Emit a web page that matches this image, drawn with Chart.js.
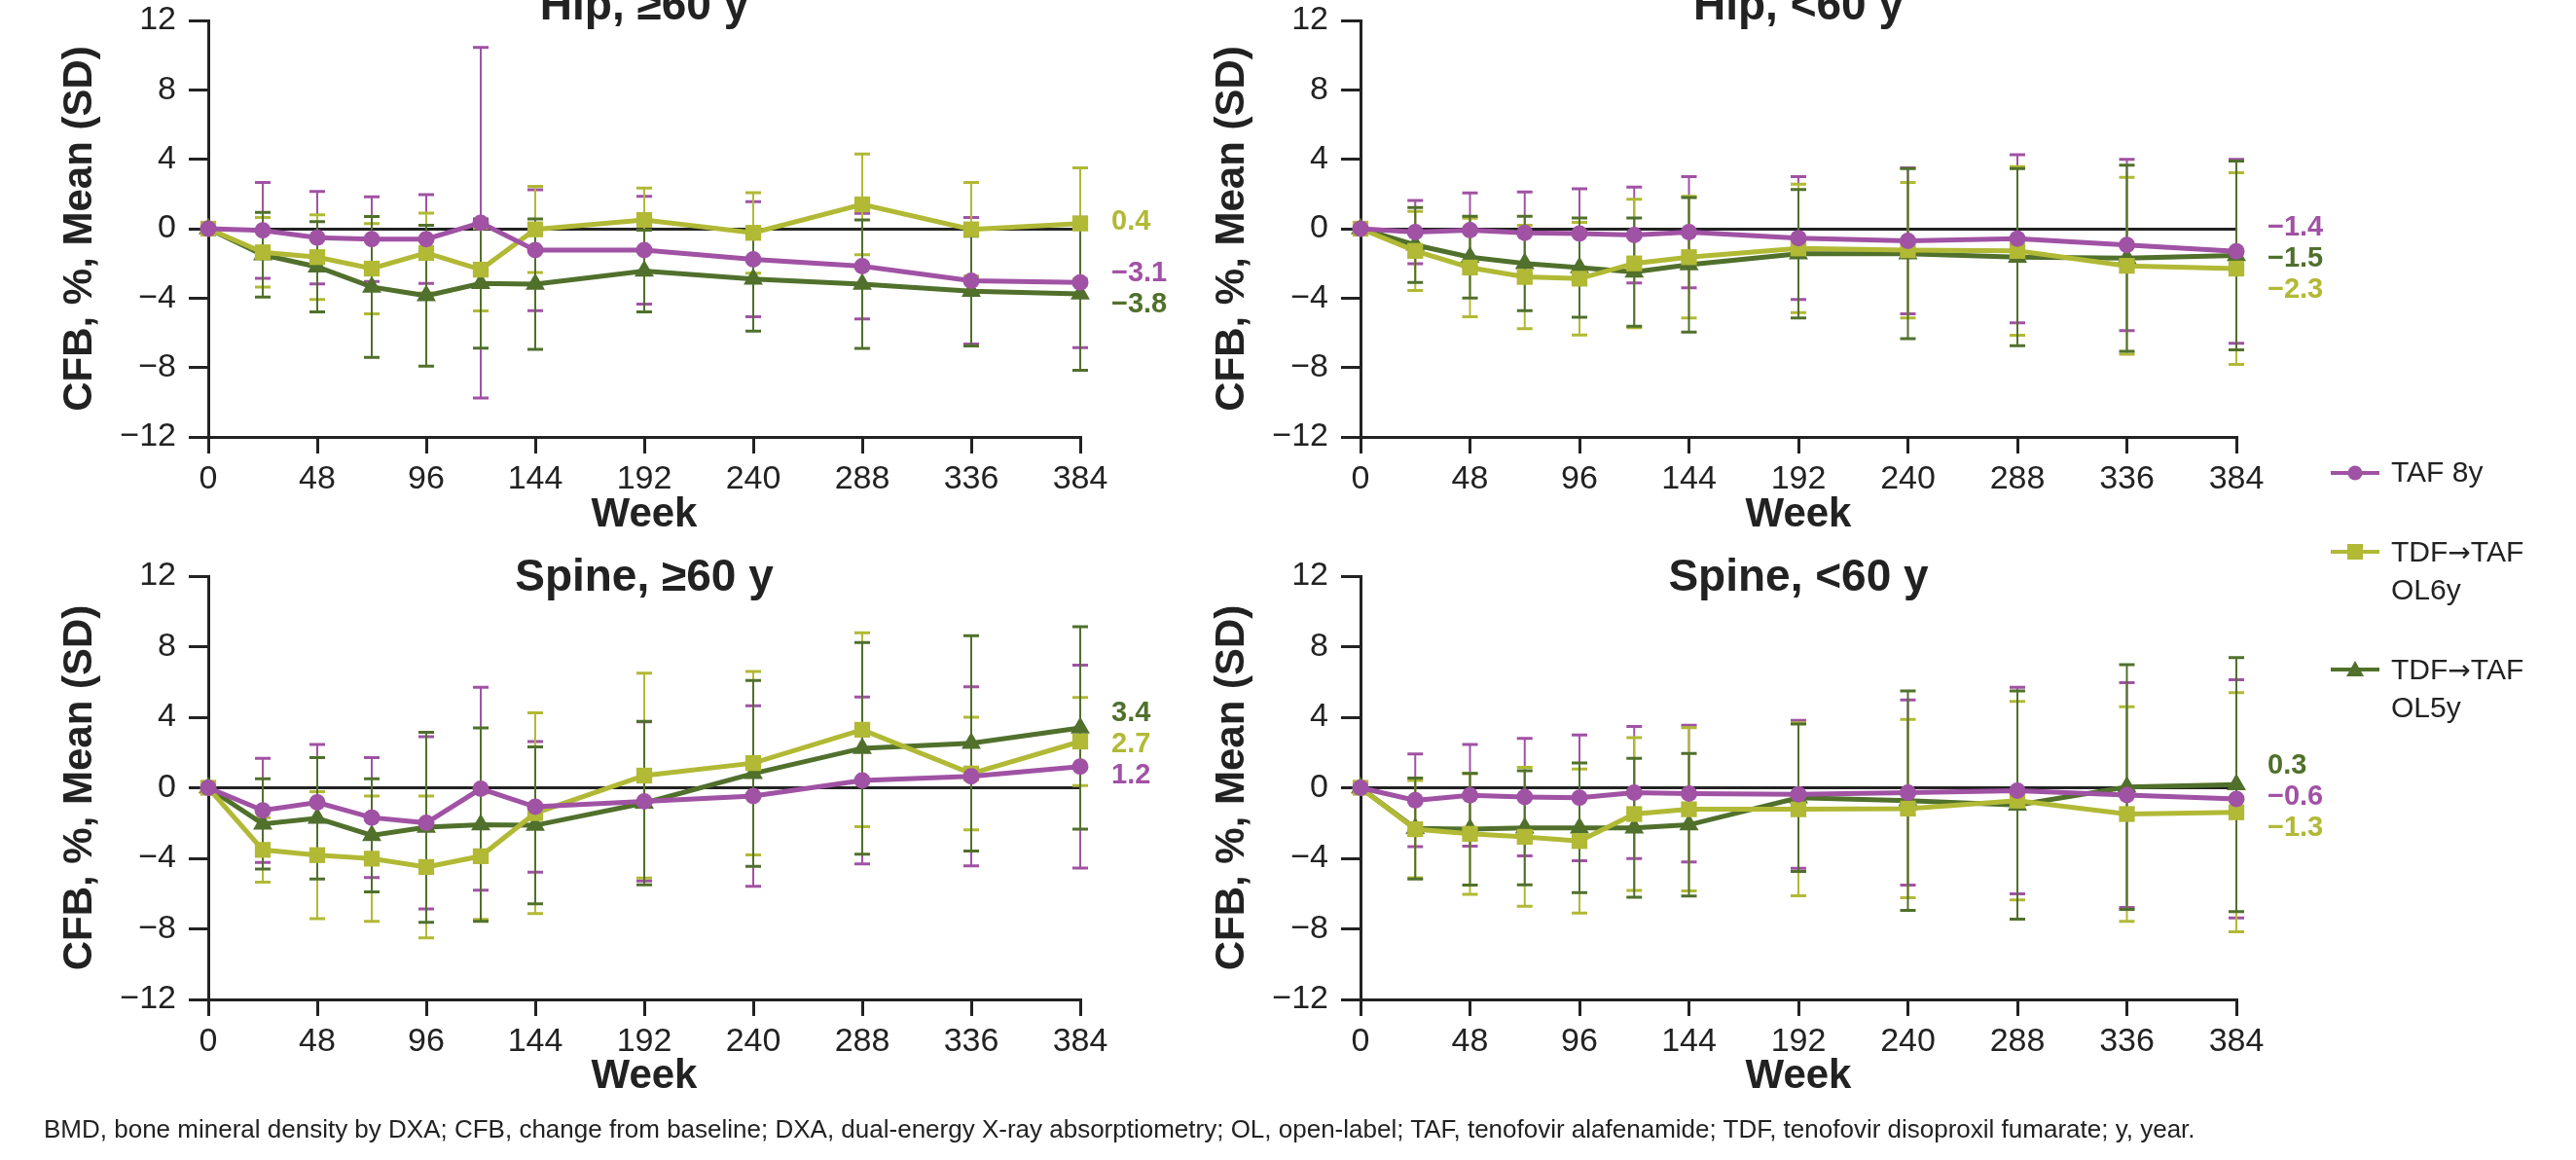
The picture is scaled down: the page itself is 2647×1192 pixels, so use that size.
<!DOCTYPE html>
<html>
<head>
<meta charset="utf-8">
<script src="https://cdn.jsdelivr.net/npm/chart.js@4.4.1/dist/chart.umd.min.js"></script>
<style>
  body { margin: 0; background: #fff; width: 2647px; height: 1192px; position: relative; overflow: hidden;
         font-family: "Liberation Sans", Arial, sans-serif; color: #222; }
  canvas { position: absolute; }
  .lg-mark { position: absolute; left: 2395px; width: 50px; height: 24px; }
  .lg-text { position: absolute; left: 2457px; font-size: 30px; white-space: nowrap; }
  .arr { font-family: "DejaVu Sans", sans-serif; font-size: 28px; }
  #foot { position: absolute; left: 45px; top: 1147px; font-size: 26px; line-height: 26px; white-space: nowrap; }
</style>
</head>
<body>
<canvas id="c1" width="1300" height="560" style="left:0;top:0"></canvas>
<canvas id="c2" width="1304" height="560" style="left:1184px;top:0"></canvas>
<canvas id="c3" width="1300" height="600" style="left:0;top:560px"></canvas>
<canvas id="c4" width="1304" height="600" style="left:1184px;top:560px"></canvas>

<svg class="lg-mark" style="top:474px"><line x1="0" y1="12" x2="50" y2="12" stroke="#a052a4" stroke-width="4"/><circle cx="25" cy="12" r="7.5" fill="#a052a4"/></svg>
<div class="lg-text" style="top:467px;line-height:36px">TAF 8y</div>
<svg class="lg-mark" style="top:555px"><line x1="0" y1="12" x2="50" y2="12" stroke="#b1b935" stroke-width="4"/><rect x="17" y="4" width="16" height="16" fill="#b1b935"/></svg>
<div class="lg-text" style="top:548px;line-height:38px">TDF<span class="arr">→</span>TAF<br>OL6y</div>
<svg class="lg-mark" style="top:676px"><line x1="0" y1="12" x2="50" y2="12" stroke="#50702c" stroke-width="4"/><polygon points="25,3 34,19 16,19" fill="#50702c"/></svg>
<div class="lg-text" style="top:669px;line-height:38px">TDF<span class="arr">→</span>TAF<br>OL5y</div>

<div id="foot">BMD, bone mineral density by DXA; CFB, change from baseline; DXA, dual-energy X-ray absorptiometry; OL, open-label; TAF, tenofovir alafenamide; TDF, tenofovir disoproxil fumarate; y, year.</div>

<script>
// data (weeks, mean CFB %, SD)
const weeks = [0, 24, 48, 72, 96, 120, 144, 192, 240, 288, 336, 384];
const weekTicks = [0, 48, 96, 144, 192, 240, 288, 336, 384];
const cfbTicks = [-12, -8, -4, 0, 4, 8, 12];
const seriesNames = ['TAF 8y', 'TDF→TAF OL6y', 'TDF→TAF OL5y'];
const seriesColors = ['#a052a4', '#b1b935', '#50702c'];

// Hip, >=60 y
const hipOldTaf = [0, -0.1, -0.52, -0.6, -0.6, 0.34, -1.24, -1.24, -1.76, -2.16, -3.0, -3.1];
const hipOldTafSd = [0, 2.76, 2.66, 2.44, 2.56, 10.1, 3.48, 3.1, 3.32, 3.04, 3.64, 3.76];
const hipOldOl6 = [0, -1.36, -1.64, -2.3, -1.4, -2.36, -0.04, 0.5, -0.24, 1.4, -0.04, 0.3];
const hipOldOl6Sd = [0, 2.0, 2.44, 2.6, 2.3, 2.38, 2.48, 1.84, 2.32, 2.9, 2.7, 3.2];
const hipOldOl5 = [0, -1.5, -2.2, -3.36, -3.86, -3.16, -3.2, -2.44, -2.9, -3.2, -3.6, -3.76];
const hipOldOl5Sd = [0, 2.44, 2.6, 4.06, 4.06, 3.72, 3.76, 2.36, 3.0, 3.7, 3.16, 4.4];
const hipOldEnd = ['−3.1', '0.4', '−3.8'];

// Hip, <60 y
const hipYoungTaf = [0, -0.2, -0.08, -0.24, -0.28, -0.36, -0.2, -0.54, -0.7, -0.58, -0.94, -1.3];
const hipYoungTafSd = [0, 1.82, 2.14, 2.36, 2.58, 2.76, 3.2, 3.54, 4.2, 4.84, 4.94, 5.3];
const hipYoungOl6 = [0, -1.28, -2.24, -2.78, -2.88, -2.0, -1.64, -1.14, -1.24, -1.28, -2.14, -2.3];
const hipYoungOl6Sd = [0, 2.28, 2.84, 2.98, 3.24, 3.7, 3.5, 3.7, 3.9, 4.86, 5.1, 5.52];
const hipYoungOl5 = [0, -0.94, -1.64, -2.0, -2.24, -2.5, -2.08, -1.44, -1.44, -1.64, -1.7, -1.54];
const hipYoungOl5Sd = [0, 2.16, 2.36, 2.72, 2.86, 3.12, 3.88, 3.7, 4.9, 5.1, 5.36, 5.44];
const hipYoungEnd = ['−1.4', '−2.3', '−1.5'];

// Spine, >=60 y
const spineOldTaf = [0, -1.28, -0.83, -1.69, -1.99, -0.06, -1.08, -0.77, -0.47, 0.41, 0.65, 1.2];
const spineOldTafSd = [0, 2.95, 3.29, 3.4, 4.88, 5.75, 3.7, 4.51, 5.12, 4.73, 5.08, 5.75];
const spineOldOl6 = [0, -3.52, -3.82, -4.02, -4.49, -3.88, -1.44, 0.69, 1.4, 3.29, 0.81, 2.62];
const spineOldOl6Sd = [0, 1.83, 3.6, 3.55, 4.02, 3.58, 5.69, 5.81, 5.2, 5.49, 3.19, 2.5];
const spineOldOl5 = [0, -2.05, -1.73, -2.7, -2.24, -2.09, -2.13, -0.87, 0.81, 2.24, 2.52, 3.39];
const spineOldOl5Sd = [0, 2.56, 3.44, 3.21, 5.39, 5.48, 4.45, 4.63, 5.27, 6.0, 6.1, 5.74];
const spineOldEnd = ['1.2', '2.7', '3.4'];

// Spine, <60 y
const spineYoungTaf = [0, -0.71, -0.43, -0.53, -0.57, -0.27, -0.33, -0.37, -0.27, -0.16, -0.41, -0.63];
const spineYoungTafSd = [0, 2.63, 2.88, 3.33, 3.57, 3.74, 3.88, 4.19, 5.25, 5.85, 6.37, 6.75];
const spineYoungOl6 = [0, -2.35, -2.61, -2.78, -3.02, -1.49, -1.22, -1.22, -1.18, -0.73, -1.49, -1.39];
const spineYoungOl6Sd = [0, 2.76, 3.43, 3.94, 4.08, 4.33, 4.63, 4.9, 5.06, 5.63, 6.08, 6.78];
const spineYoungOl5 = [0, -2.31, -2.35, -2.27, -2.27, -2.27, -2.1, -0.57, -0.73, -0.98, 0.04, 0.18];
const spineYoungOl5Sd = [0, 2.86, 3.17, 3.23, 3.68, 3.94, 4.04, 4.18, 6.22, 6.47, 6.94, 7.2];
const spineYoungEnd = ['−0.6', '−1.3', '0.3'];

const FONT = '"Liberation Sans", Arial, sans-serif';
Chart.defaults.font.family = FONT;
Chart.defaults.color = '#222';

const markerStyle = ['circle', 'rect', 'triangle'];
const markerSize = [8.5, 11.5, 11.5];

// SD whiskers under the lines
const errorBars = {
  id: 'errorBars',
  beforeDatasetsDraw(chart) {
    const { ctx, scales: { x, y } } = chart;
    chart.data.datasets.forEach(ds => {
      ctx.save();
      ctx.strokeStyle = ds.borderColor;
      ds.data.forEach((p, j) => {
        const sd = ds.sd[j];
        if (!sd) return;
        const px = x.getPixelForValue(p.x);
        const top = y.getPixelForValue(p.y + sd);
        const bot = y.getPixelForValue(p.y - sd);
        ctx.lineWidth = 2;
        ctx.beginPath(); ctx.moveTo(px, top); ctx.lineTo(px, bot); ctx.stroke();
        ctx.lineWidth = 3;
        ctx.beginPath();
        ctx.moveTo(px - 8, top); ctx.lineTo(px + 8, top);
        ctx.moveTo(px - 8, bot); ctx.lineTo(px + 8, bot);
        ctx.stroke();
      });
      ctx.restore();
    });
  }
};

// panel title + end-of-line value labels
const panelText = {
  id: 'panelText',
  afterDatasetsDraw(chart, args, opts) {
    const { ctx, chartArea, scales: { y } } = chart;
    ctx.save();
    ctx.fillStyle = '#222';
    ctx.font = 'bold 46px ' + FONT;
    ctx.textAlign = 'center';
    ctx.textBaseline = 'alphabetic';
    ctx.fillText(opts.title, (chartArea.left + chartArea.right) / 2, chartArea.top + opts.titleOffset);

    // spread labels so they don't collide
    const gap = 32;
    const items = opts.ends.map((t, i) => ({ i, t, y: y.getPixelForValue(parseFloat(t.replace('−', '-'))) }));
    items.sort((a, b) => a.y - b.y);
    let groups = items.map(it => ({ items: [it], c: it.y }));
    let changed = true;
    while (changed) {
      changed = false;
      for (let k = 0; k < groups.length - 1; k++) {
        const g1 = groups[k], g2 = groups[k + 1];
        const b1 = g1.c + (g1.items.length - 1) * gap / 2;
        const t2 = g2.c - (g2.items.length - 1) * gap / 2;
        if (t2 - b1 < gap) {
          const all = g1.items.concat(g2.items);
          const c = all.reduce((s, it) => s + it.y, 0) / all.length;
          groups.splice(k, 2, { items: all, c });
          changed = true;
          break;
        }
      }
    }
    ctx.font = 'bold 29px ' + FONT;
    ctx.textAlign = 'left';
    ctx.textBaseline = 'middle';
    groups.forEach(g => g.items.forEach((it, n) => {
      const py = g.c + (n - (g.items.length - 1) / 2) * gap;
      ctx.fillStyle = seriesColors[it.i];
      ctx.fillText(it.t, chartArea.right + 32, py);
    }));
    ctx.restore();
  }
};

const panels = [
  { id: 'c1', title: 'Hip, ≥60 y', titleOffset: -1, areaTop: 21, axisH: 111, weekPad: 5,
    means: [hipOldTaf, hipOldOl6, hipOldOl5], sds: [hipOldTafSd, hipOldOl6Sd, hipOldOl5Sd], ends: hipOldEnd },
  { id: 'c2', title: 'Hip, <60 y', titleOffset: -1, areaTop: 21, axisH: 111, weekPad: 5,
    means: [hipYoungTaf, hipYoungOl6, hipYoungOl5], sds: [hipYoungTafSd, hipYoungOl6Sd, hipYoungOl5Sd], ends: hipYoungEnd },
  { id: 'c3', title: 'Spine, ≥60 y', titleOffset: 15, areaTop: 32, axisH: 133, weekPad: 28,
    means: [spineOldTaf, spineOldOl6, spineOldOl5], sds: [spineOldTafSd, spineOldOl6Sd, spineOldOl5Sd], ends: spineOldEnd },
  { id: 'c4', title: 'Spine, <60 y', titleOffset: 15, areaTop: 32, axisH: 133, weekPad: 28,
    means: [spineYoungTaf, spineYoungOl6, spineYoungOl5], sds: [spineYoungTafSd, spineYoungOl6Sd, spineYoungOl5Sd], ends: spineYoungEnd }
];

panels.forEach(p => {
  new Chart(document.getElementById(p.id), {
    type: 'line',
    data: {
      datasets: p.means.map((m, i) => ({
        label: seriesNames[i],
        data: weeks.map((w, j) => ({ x: w, y: m[j] })),
        sd: p.sds[i],
        borderColor: seriesColors[i],
        backgroundColor: seriesColors[i],
        pointStyle: markerStyle[i],
        pointRadius: markerSize[i],
        pointBorderWidth: 0,
        borderWidth: 5,
        tension: 0,
        clip: false
      }))
    },
    options: {
      responsive: false,
      animation: false,
      layout: { padding: { left: 0, right: 190, top: p.areaTop, bottom: 0 } },
      plugins: {
        legend: { display: false },
        tooltip: { enabled: false },
        panelText: { title: p.title, titleOffset: p.titleOffset, ends: p.ends }
      },
      scales: {
        x: {
          type: 'linear', min: 0, max: 384,
          afterBuildTicks: s => { s.ticks = weekTicks.map(v => ({ value: v })); },
          afterFit: s => { s.height = p.axisH; },
          grid: { drawOnChartArea: false, tickLength: 17, tickColor: '#222', lineWidth: 3 },
          border: { color: '#222', width: 3 },
          ticks: { padding: 6, font: { size: 34 }, color: '#222', maxRotation: 0, autoSkip: false },
          title: { display: true, text: 'Week', color: '#222', font: { size: 42, weight: 'bold' },
                   padding: { top: 0, bottom: p.weekPad } }
        },
        y: {
          min: -12, max: 12,
          afterBuildTicks: s => { s.ticks = cfbTicks.map(v => ({ value: v })); },
          afterFit: s => { s.width = 214; s.paddingTop = 0; s.paddingBottom = 0; },
          grid: { color: c => (c.tick && c.tick.value === 0) ? '#222' : 'rgba(0,0,0,0)',
                  tickColor: '#222', lineWidth: 3, tickLength: 20 },
          border: { color: '#222', width: 3 },
          ticks: { padding: 13, font: { size: 34 }, color: '#222', autoSkip: false,
                   callback: v => String(v).replace('-', '−') },
          title: { display: true, text: 'CFB, %, Mean (SD)', color: '#222', font: { size: 42, weight: 'bold' },
                   padding: { top: 57, bottom: 0 } }
        }
      }
    },
    plugins: [errorBars, panelText]
  });
});
</script>
</body>
</html>
